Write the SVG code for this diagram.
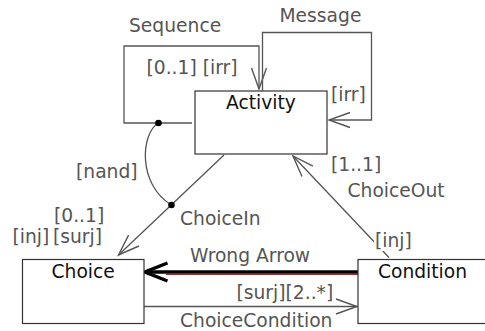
<svg xmlns="http://www.w3.org/2000/svg" width="485" height="331" viewBox="0 0 485 331">
  <style>
    .box { fill: #ffffff; stroke: #333333; stroke-width: 1.2; }
    .name { font-family: "DejaVu Sans", sans-serif; font-size: 18.7px; fill: #111111; text-anchor: middle; }
    .lbl { font-family: "DejaVu Sans", sans-serif; font-size: 18.7px; fill: #555555; }
    .edge { fill: none; stroke: #555555; stroke-width: 1.3; }
    .thick { fill: none; stroke: #000000; stroke-width: 3.6; }
  </style>
  <defs>
    <marker id="open" markerUnits="userSpaceOnUse" viewBox="-23 -10 25 20" markerWidth="25" markerHeight="20" refX="0" refY="0" orient="auto">
      <path d="M-21,-7.5 L0,0 L-21,7.5" fill="none" stroke="#555555" stroke-width="1.4"/>
    </marker>
    <marker id="openThick" markerUnits="userSpaceOnUse" viewBox="-26 -12 29 24" markerWidth="29" markerHeight="24" refX="0" refY="0" orient="auto">
      <path d="M-22.5,-9 L0,0 L-22.5,9" fill="none" stroke="#000000" stroke-width="3.4"/>
    </marker>
  </defs>

  <g id="connectors">
    <!-- Sequence: self loop on the left/top of Activity -->
    <path class="edge" d="M192,123 H124 V46 H259 V89" marker-end="url(#open)"/>
    <text class="lbl" x="129" y="32">Sequence</text>
    <text class="lbl" x="146.5" y="74">[0..1] [irr]</text>

    <!-- Message: self loop on the top/right of Activity -->
    <path class="edge" d="M262.5,91 V32.5 H371.5 V120 H329" marker-end="url(#open)"/>
    <text class="lbl" x="279.5" y="21.5">Message</text>
    <text class="lbl" x="331" y="101">[irr]</text>

    <!-- ChoiceIn: Activity to Choice -->
    <path class="edge" d="M224,155 L118.5,255" marker-end="url(#open)"/>
    <text class="lbl" x="180" y="225">ChoiceIn</text>
    <text class="lbl" x="54" y="221.5">[0..1]</text>
    <text class="lbl" x="12.5" y="243">[inj]</text>
    <text class="lbl" x="53" y="243">[surj]</text>

    <!-- nand constraint between Sequence and ChoiceIn -->
    <path class="edge" d="M158.5,123 C141,133 137,184 171.5,205"/>
    <circle cx="158.5" cy="123" r="3.3" fill="#000000"/>
    <circle cx="171.5" cy="205" r="3.3" fill="#000000"/>
    <text class="lbl" x="76" y="177.5">[nand]</text>

    <!-- ChoiceOut: Condition to Activity -->
    <path class="edge" d="M389,257.5 L293,156" marker-end="url(#open)"/>
    <text class="lbl" x="331" y="171">[1..1]</text>
    <text class="lbl" x="347.5" y="196.5">ChoiceOut</text>
    <rect x="374" y="231" width="38" height="20" fill="#ffffff"/>
    <text class="lbl" x="375" y="246.5">[inj]</text>

    <!-- Wrong Arrow: Condition to Choice -->
    <line x1="166" y1="274.4" x2="358" y2="274.4" stroke="#8b1a1a" stroke-width="1"/>
    <path class="thick" d="M358,272 H145" marker-end="url(#openThick)"/>
    <text class="lbl" x="190" y="261.5">Wrong Arrow</text>

    <!-- ChoiceCondition: Choice to Condition -->
    <path class="edge" d="M144,306.5 H357" marker-end="url(#open)"/>
    <text class="lbl" x="236.5" y="298.5">[surj][2..*]</text>
    <text class="lbl" x="180" y="326.5">ChoiceCondition</text>
  </g>

  <g id="activity">
    <rect class="box" x="195" y="91" width="132" height="63"/>
    <text class="name" x="261" y="109">Activity</text>
  </g>

  <g id="choice">
    <rect class="box" x="22.5" y="259.5" width="121.5" height="64"/>
    <text class="name" x="83.2" y="278.3">Choice</text>
  </g>

  <g id="condition">
    <rect class="box" x="358" y="259.5" width="130" height="64"/>
    <text class="name" x="422.5" y="278.3">Condition</text>
  </g>
</svg>
